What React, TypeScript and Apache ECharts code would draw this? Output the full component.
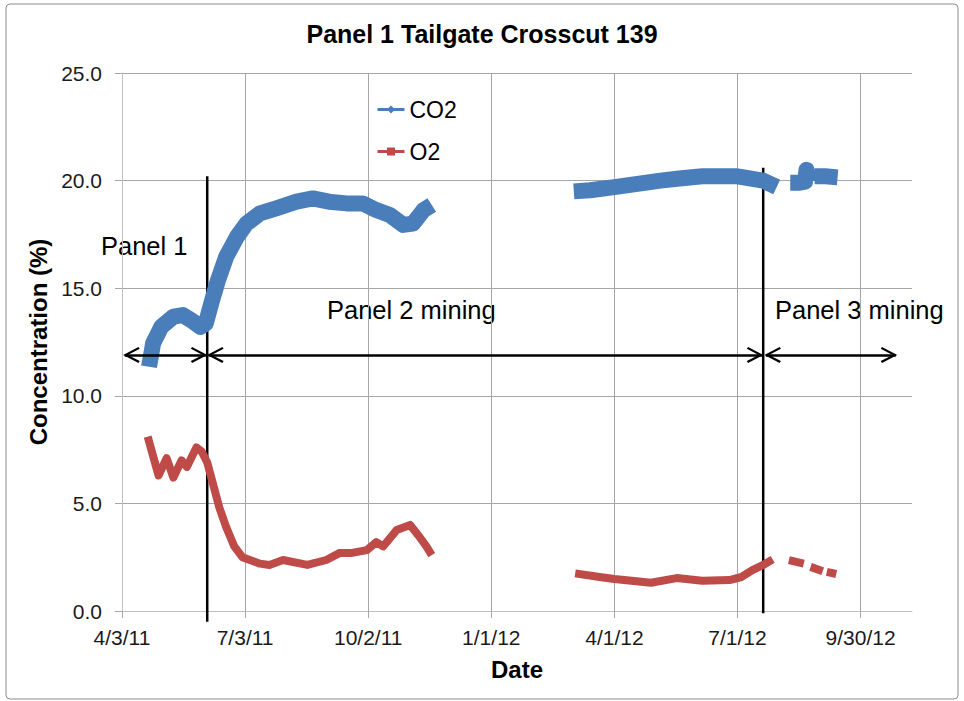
import React, { useEffect, useRef } from "react";
import * as echarts from "echarts";

const TITLE = "Panel 1 Tailgate Crosscut 139";
const START_DATE = "2011-04-03";
const END_DATE = "2012-11-07";
const TICK_DAYS = 91;
const Y_TICKS = [0, 5, 10, 15, 20, 25];

// [date, value]  (null value = gap)
const co2: [string, number | null][] = [
  ["2011-04-23", 11.35], ["2011-04-26", 12.44], ["2011-05-02", 13.2], ["2011-05-11", 13.68],
  ["2011-05-18", 13.75], ["2011-05-24", 13.52], ["2011-05-31", 13.2], ["2011-06-04", 13.37],
  ["2011-06-08", 14.3], ["2011-06-13", 15.38], ["2011-06-19", 16.46], ["2011-06-27", 17.39],
  ["2011-07-04", 18.0], ["2011-07-14", 18.48], ["2011-07-26", 18.71], ["2011-08-10", 19.02],
  ["2011-08-22", 19.17], ["2011-09-03", 19.02], ["2011-09-16", 18.94], ["2011-09-28", 18.94],
  ["2011-10-08", 18.63], ["2011-10-18", 18.4], ["2011-10-28", 17.94], ["2011-11-04", 18.0],
  ["2011-11-12", 18.63], ["2011-11-18", 18.87],
  ["2012-01-15", null],
  ["2012-03-02", 19.5], ["2012-03-14", 19.55], ["2012-04-01", 19.7], ["2012-04-18", 19.85],
  ["2012-05-05", 20.0], ["2012-05-19", 20.1], ["2012-06-05", 20.2], ["2012-06-18", 20.2],
  ["2012-07-01", 20.2], ["2012-07-10", 20.1], ["2012-07-20", 20.0], ["2012-07-30", 19.7],
  ["2012-08-04", null],
  ["2012-08-09", 19.9], ["2012-08-16", 19.9], ["2012-08-20", 19.95], ["2012-08-21", 20.5],
  ["2012-08-22", 19.95],
  ["2012-08-24", null],
  ["2012-08-27", 20.2], ["2012-09-04", 20.2], ["2012-09-13", 20.15],
];

const o2: [string, number | null][] = [
  ["2011-04-22", 8.1], ["2011-04-26", 7.2], ["2011-04-30", 6.3], ["2011-05-06", 7.1],
  ["2011-05-11", 6.2], ["2011-05-17", 7.0], ["2011-05-21", 6.7], ["2011-05-28", 7.6],
  ["2011-06-01", 7.4], ["2011-06-05", 6.9], ["2011-06-08", 6.2], ["2011-06-14", 4.8],
  ["2011-06-19", 3.9], ["2011-06-25", 3.0], ["2011-07-01", 2.5], ["2011-07-14", 2.2],
  ["2011-07-21", 2.14], ["2011-07-31", 2.37], ["2011-08-18", 2.14], ["2011-09-01", 2.37],
  ["2011-09-11", 2.7], ["2011-09-20", 2.7], ["2011-10-01", 2.83], ["2011-10-08", 3.2],
  ["2011-10-13", 3.0], ["2011-10-23", 3.76], ["2011-11-02", 4.0], ["2011-11-09", 3.44],
  ["2011-11-14", 3.0], ["2011-11-18", 2.6],
  ["2012-01-15", null],
  ["2012-03-03", 1.75], ["2012-03-21", 1.58], ["2012-04-01", 1.49], ["2012-04-28", 1.31],
  ["2012-05-17", 1.53], ["2012-06-05", 1.41], ["2012-06-25", 1.44], ["2012-07-04", 1.58],
  ["2012-07-12", 1.9], ["2012-07-20", 2.14], ["2012-07-27", 2.4],
  ["2012-08-03", null],
  ["2012-08-08", 2.36], ["2012-08-19", 2.2],
  ["2012-08-21", null],
  ["2012-08-24", 2.05], ["2012-09-02", 1.85],
  ["2012-09-03", null],
  ["2012-09-05", 1.82], ["2012-09-12", 1.72],
];

// phase boundaries (vertical lines): [date, top, bottom]
const phaseLines: [string, number, number][] = [
  ["2011-06-05", 20.2, -0.5],
  ["2012-07-20", 20.6, -0.1],
];
// double arrows: [from, to, level]
const arrows: [string, string, number][] = [
  ["2011-04-05", "2011-06-04", 11.9],
  ["2011-06-06", "2012-07-19", 11.9],
  ["2012-07-22", "2012-10-26", 11.9],
];
const annotations = [
  { text: "Panel 1", x: 101, y: 246 },
  { text: "Panel 2 mining", x: 327, y: 310 },
  { text: "Panel 3 mining", x: 775, y: 310 },
];

const DAY = 86400000;
const base = Date.parse(START_DATE);
const toOff = (s: string) => Math.round((Date.parse(s) - base) / DAY);
const fmtDate = (v: number) => {
  const d = new Date(base + v * DAY);
  return `${d.getUTCMonth() + 1}/${d.getUTCDate()}/${String(d.getUTCFullYear()).slice(2)}`;
};

const FONT = "'Liberation Sans', Arial, sans-serif";
const CHEVRON =
  "path://M8,0 L8.01,0 L8,0.01 Z M8,13.4 L16,28.6 L14.1,29.8 L8,18 L1.9,29.8 L0,28.6 Z";

export default function App() {
  const ref = useRef<HTMLDivElement>(null);
  useEffect(() => {
    if (!ref.current) return;
    const chart = echarts.init(ref.current, null, { renderer: "svg" });
    const conv = (arr: [string, number | null][]) =>
      arr.map(([d, v]) => [toOff(d), v === null ? "-" : v]);

    const arrowData: any[] = arrows.map(([a, b, y]) => [
      { coord: [toOff(a), y] },
      { coord: [toOff(b), y] },
    ]);

    chart.setOption({
      animation: false,
      backgroundColor: "#fff",
      title: {
        text: TITLE,
        left: "center",
        top: 16,
        textStyle: { fontFamily: FONT, fontSize: 25, fontWeight: "bold", color: "#000" },
      },
      legend: {
        orient: "vertical",
        left: 376,
        top: 98,
        itemWidth: 27,
        itemHeight: 10,
        itemGap: 19,
        padding: 0,
        data: ["CO2", "O2"],
        lineStyle: { width: 3 },
        textStyle: { fontFamily: FONT, fontSize: 23, color: "#000" },
      },
      grid: { left: 122, top: 73, right: 52, bottom: 90 },
      xAxis: {
        type: "value",
        min: 0,
        max: toOff(END_DATE),
        interval: TICK_DAYS,
        name: "Date",
        nameLocation: "middle",
        nameGap: 46,
        nameTextStyle: { fontFamily: FONT, fontSize: 24, fontWeight: "bold", color: "#000" },
        axisLine: { show: true, lineStyle: { color: "#bfbfbf", width: 1 } },
        axisTick: { show: true, length: 7, lineStyle: { color: "#a6a6a6" } },
        axisLabel: {
          margin: 16,
          showMaxLabel: false,
          fontFamily: FONT,
          fontSize: 21,
          color: "#1a1a1a",
          formatter: (v: number) => (v % TICK_DAYS === 0 ? fmtDate(v) : ""),
        },
        splitLine: { show: true, showMaxLine: false, lineStyle: { color: "#a6a6a6", width: 1 } },
      },
      yAxis: {
        type: "value",
        min: Y_TICKS[0],
        max: Y_TICKS[Y_TICKS.length - 1],
        interval: 5,
        name: "Concentration (%)",
        nameLocation: "middle",
        nameGap: 68,
        nameTextStyle: { fontFamily: FONT, fontSize: 24, fontWeight: "bold", color: "#000" },
        axisLine: { show: true, lineStyle: { color: "#bfbfbf", width: 1 } },
        axisTick: { show: true, length: 7, lineStyle: { color: "#a6a6a6" } },
        axisLabel: {
          margin: 20,
          fontFamily: FONT,
          fontSize: 21,
          color: "#1a1a1a",
          formatter: (v: number) => v.toFixed(1),
        },
        splitLine: { show: true, lineStyle: { color: "#a6a6a6", width: 1 } },
      },
      series: [
        {
          name: "CO2",
          type: "line",
          data: conv(co2),
          symbol: "diamond",
          symbolSize: 6,
          showSymbol: false,
          connectNulls: false,
          itemStyle: { color: "#4a7ebb" },
          lineStyle: { color: "#4a7ebb", width: 16, join: "round" },
          silent: true,
        },
        {
          name: "O2",
          type: "line",
          data: conv(o2),
          symbol: "rect",
          symbolSize: 6,
          showSymbol: false,
          connectNulls: false,
          itemStyle: { color: "#be4b48" },
          lineStyle: { color: "#be4b48", width: 8, join: "round" },
          silent: true,
        },
        {
          name: "phases",
          type: "custom",
          clip: false,
          silent: true,
          data: phaseLines.map(([d, t, b]) => [toOff(d), t, b]),
          renderItem: (params: any, api: any) => {
            const p1 = api.coord([api.value(0), api.value(1)]);
            const p2 = api.coord([api.value(0), api.value(2)]);
            return {
              type: "line",
              shape: { x1: p1[0], y1: p1[1], x2: p2[0], y2: p2[1] },
              style: { stroke: "#000", lineWidth: 2.5 },
            };
          },
        },
        {
          name: "arrows",
          type: "line",
          data: [],
          clip: false,
          silent: true,
          markLine: {
            silent: true,
            animation: false,
            symbol: [CHEVRON, CHEVRON],
            symbolSize: [16, 30],
            label: { show: false },
            lineStyle: { color: "#000", width: 2.5, type: "solid" },
            itemStyle: { color: "#000" },
            emphasis: { disabled: true },
            data: arrowData,
          },
        },
      ],
      graphic: [
        {
          type: "rect",
          shape: { x: 6, y: 4, width: 952, height: 695, r: 4 },
          style: { fill: "none", stroke: "#8c8c8c", lineWidth: 1 },
          silent: true,
        },
        ...annotations.map((a) => ({
          type: "text",
          x: a.x,
          y: a.y,
          style: {
            text: a.text,
            fontFamily: FONT,
            fontSize: 25.5,
            fill: "#000",
            verticalAlign: "middle",
          },
          silent: true,
        })),
      ],
    });
    return () => chart.dispose();
  }, []);
  return (
    <div
      ref={ref}
      style={{ position: "fixed", left: 0, top: 0, width: 964, height: 701, background: "#fff" }}
    />
  );
}
